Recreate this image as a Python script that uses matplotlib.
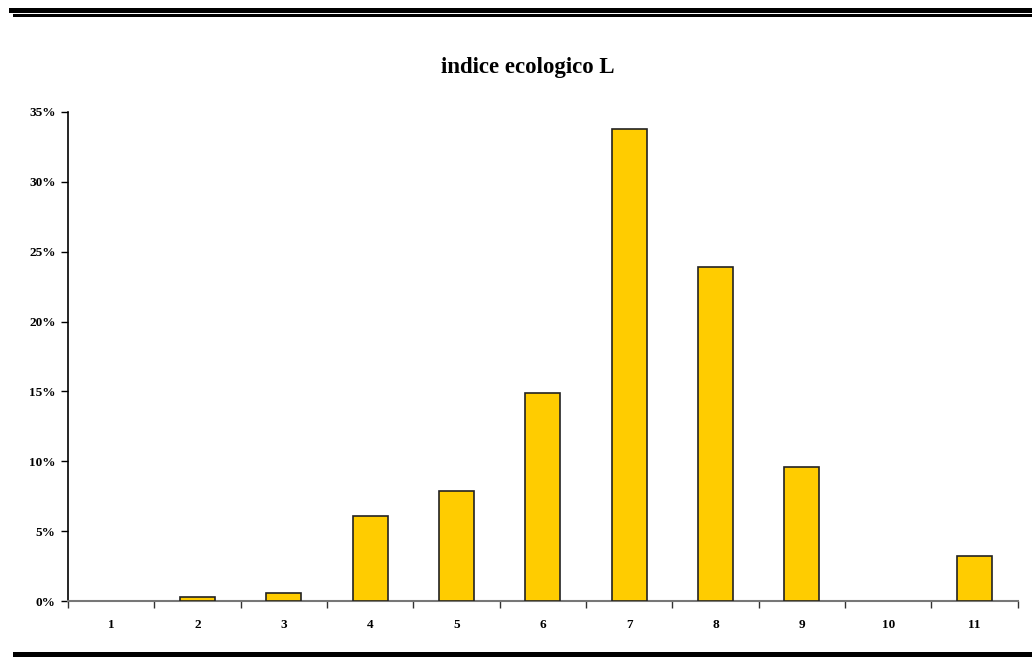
import numpy as np
import matplotlib.pyplot as plt
from matplotlib.patches import Rectangle
from matplotlib.ticker import FuncFormatter, FixedLocator

# indice ecologico L - percent of species per class
classi = ['1', '2', '3', '4', '5', '6', '7', '8', '9', '10', '11']
perc = [0.0, 0.3, 0.6, 6.1, 7.9, 14.9, 33.8, 23.9, 9.6, 0.0, 3.2]

plt.rcParams['font.family'] = ['Liberation Serif', 'DejaVu Serif']

W, H = 1032, 657
fig = plt.figure(figsize=(W / 100, H / 100), dpi=100)
ax = fig.add_axes([68 / W, 1 - 601 / H, (1017.7 - 68) / W, (601 - 112) / H])

x = np.arange(len(classi))
# empty classes get no outline (nothing drawn, as in the original)
edges = ['#222222' if v > 0 else 'none' for v in perc]
ax.bar(x, perc, width=0.405, color='#FFCC00', edgecolor=edges, linewidth=1.2, zorder=3)

ax.set_xlim(-0.5, len(classi) - 0.5)
ax.set_ylim(0, 35)
ax.set_yticks(np.arange(0, 36, 5))
ax.yaxis.set_major_formatter(FuncFormatter(lambda v, p: '%d%%' % v))
ax.set_xticks(x)
ax.set_xticklabels(classi)
ax.xaxis.set_minor_locator(FixedLocator(np.arange(-0.5, len(classi), 1.0)))

ax.tick_params(axis='x', which='major', length=0, pad=13, labelsize=9.5)
ax.tick_params(axis='x', which='minor', length=5, width=1, color='#333333', direction='out')
ax.tick_params(axis='y', length=5, width=1, direction='out', pad=4, labelsize=9.5)
for lab in ax.get_xticklabels() + ax.get_yticklabels():
    lab.set_fontweight('bold')

for s in ['top', 'right']:
    ax.spines[s].set_visible(False)
ax.spines['left'].set_color('black')
ax.spines['left'].set_linewidth(1.2)
ax.spines['bottom'].set_color('#777777')
ax.spines['bottom'].set_linewidth(1.5)

fig.text(528 / W, 1 - 67 / H, 'indice ecologico L', ha='center', va='center',
         fontsize=16.5, fontweight='bold')

# page rules above and below the chart
def rule(x0, y0, y1):
    fig.add_artist(Rectangle((x0 / W, 1 - y1 / H), 1 - x0 / W, (y1 - y0) / H,
                             transform=fig.transFigure, color='black', lw=0))

rule(9, 8.3, 12.7)
rule(13, 14, 16.7)
rule(13, 652, 657)

plt.savefig('out.png', dpi=100)
